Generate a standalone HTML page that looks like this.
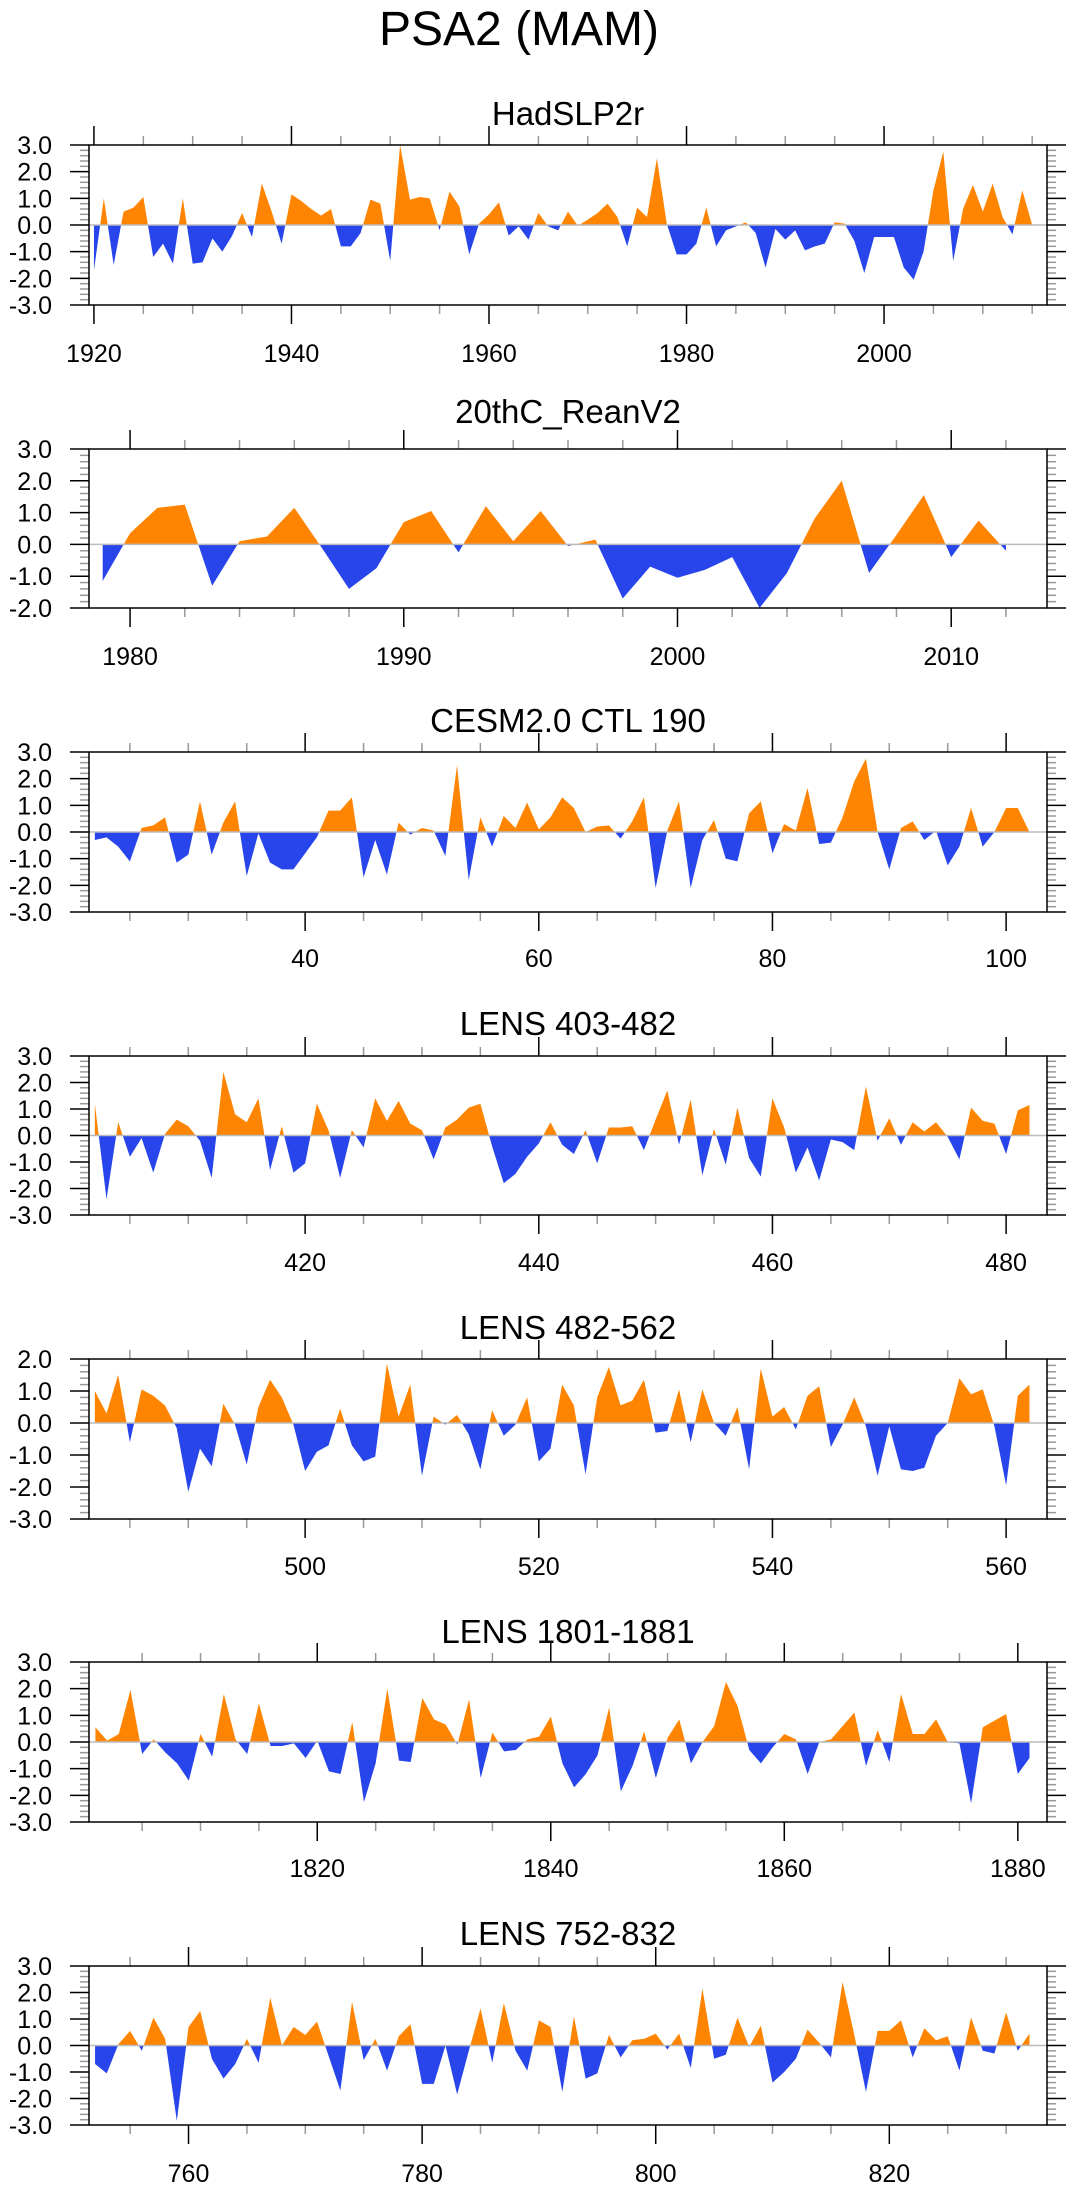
<!DOCTYPE html>
<html>
<head>
<meta charset="utf-8">
<style>
  html, body { margin: 0; padding: 0; background: #ffffff; }
  #chart { display: block; }
  text { font-family: "Liberation Sans", "DejaVu Sans", sans-serif; fill: #000; }
</style>
</head>
<body>
<svg id="chart" width="1075" height="2191" viewBox="0 0 1075 2191" xmlns="http://www.w3.org/2000/svg">
  <rect x="0" y="0" width="1075" height="2191" fill="#ffffff"/>
  <text x="519" y="45" font-size="48" text-anchor="middle">PSA2 (MAM)</text>
  <defs id="defs"></defs>
</svg>
<script>
// ---------- data ----------
const hadStart = 1920;
const hadValues = [-1.7,1.0,-1.5,0.5,0.65,1.05,-1.2,-0.7,-1.45,1.0,
  -1.45,-1.4,-0.5,-1.0,-0.4,0.45,-0.45,1.55,0.5,-0.7,
  1.15,0.9,0.6,0.35,0.6,-0.8,-0.8,-0.3,0.95,0.8,
  -1.35,3.0,0.95,1.05,1.0,-0.2,1.25,0.7,-1.1,0.05,
  0.4,0.85,-0.4,-0.05,-0.55,0.45,-0.05,-0.2,0.5,-0.03,
  0.2,0.45,0.8,0.3,-0.8,0.65,0.3,2.5,0.05,-1.1,
  -1.1,-0.7,0.65,-0.8,-0.2,-0.05,0.1,-0.3,-1.6,-0.15,
  -0.55,-0.2,-0.95,-0.8,-0.7,0.1,0.05,-0.6,-1.8,-0.45,
  -0.45,-0.45,-1.6,-2.05,-1.0,1.3,2.75,-1.35,0.6,1.5,
  0.5,1.55,0.3,-0.35,1.3,0.0];
const hadXLabels = [1920,1940,1960,1980,2000];

const reanStart = 1979;
const reanValues = [-1.15,0.35,1.15,1.25,-1.3,0.1,0.25,1.15,-0.1,-1.4,
  -0.75,0.7,1.05,-0.25,1.2,0.1,1.05,-0.05,0.15,-1.7,
  -0.7,-1.05,-0.8,-0.4,-2.0,-0.9,0.8,2.0,-0.9,0.3,
  1.55,-0.4,0.75,-0.2];
const reanXLabels = [1980,1990,2000,2010];

const cesmStart = 22;
const cesmValues = [-0.3,-0.2,-0.55,-1.1,0.15,0.25,0.55,-1.15,-0.85,1.15,
  -0.85,0.35,1.15,-1.65,-0.05,-1.15,-1.4,-1.4,-0.8,-0.2,
  0.8,0.8,1.3,-1.7,-0.3,-1.6,0.35,-0.1,0.15,0.05,
  -0.9,2.5,-1.8,0.55,-0.55,0.6,0.15,1.1,0.1,0.55,
  1.3,0.9,0.0,0.2,0.25,-0.25,0.4,1.3,-2.1,0.05,
  1.15,-2.1,-0.3,0.45,-1.0,-1.1,0.7,1.15,-0.8,0.3,
  0.05,1.65,-0.45,-0.4,0.55,1.9,2.75,0.0,-1.4,0.15,
  0.4,-0.3,0.05,-1.25,-0.55,0.9,-0.55,0.0,0.9,0.9,
  0.0];
const cesmXLabels = [40,60,80,100];

const lensAStart = 402;
const lensAValues = [1.2,-2.4,0.5,-0.8,-0.1,-1.4,0.05,0.6,0.35,-0.2,
  -1.6,2.4,0.8,0.5,1.4,-1.3,0.35,-1.4,-1.05,1.2,
  0.2,-1.6,0.2,-0.45,1.4,0.55,1.3,0.45,0.2,-0.9,
  0.3,0.6,1.05,1.2,-0.4,-1.8,-1.45,-0.8,-0.3,0.5,
  -0.35,-0.7,0.2,-1.05,0.3,0.3,0.35,-0.55,0.6,1.7,
  -0.35,1.35,-1.5,0.25,-1.1,1.05,-0.85,-1.55,1.4,0.3,
  -1.4,-0.45,-1.7,-0.15,-0.25,-0.55,1.85,-0.2,0.65,-0.35,
  0.5,0.15,0.5,-0.05,-0.9,1.05,0.55,0.45,-0.7,0.95,
  1.15];
const lensAXLabels = [420,440,460,480];

const lensBStart = 482;
const lensBValues = [1.0,0.3,1.5,-0.6,1.05,0.85,0.55,-0.15,-2.15,-0.8,
  -1.35,0.6,-0.05,-1.3,0.5,1.35,0.8,-0.05,-1.5,-0.9,
  -0.7,0.45,-0.7,-1.2,-1.05,1.85,0.2,1.2,-1.65,0.2,
  -0.05,0.25,-0.35,-1.45,0.4,-0.4,-0.05,0.8,-1.2,-0.8,
  1.2,0.55,-1.6,0.8,1.75,0.55,0.7,1.35,-0.3,-0.25,
  1.05,-0.6,1.05,0.0,-0.4,0.5,-1.45,1.7,0.2,0.5,
  -0.2,0.85,1.15,-0.75,-0.05,0.8,-0.1,-1.65,-0.1,-1.45,
  -1.5,-1.4,-0.4,0.0,1.4,0.9,1.05,-0.1,-1.95,0.85,
  1.2];
const lensBXLabels = [500,520,540,560];

const lensCStart = 1801;
const lensCValues = [0.55,0.05,0.3,1.95,-0.45,0.1,-0.4,-0.8,-1.45,0.3,
  -0.55,1.8,0.1,-0.45,1.45,-0.15,-0.15,-0.05,-0.6,0.05,
  -1.1,-1.2,0.75,-2.25,-0.8,2.0,-0.7,-0.75,1.65,0.85,
  0.65,-0.1,1.6,-1.35,0.35,-0.35,-0.3,0.1,0.2,0.95,
  -0.8,-1.7,-1.2,-0.5,1.3,-1.85,-0.9,0.4,-1.35,0.15,
  0.85,-0.8,0.0,0.6,2.25,1.35,-0.3,-0.8,-0.2,0.3,
  0.1,-1.2,0.0,0.1,0.6,1.1,-0.9,0.45,-0.75,1.8,
  0.3,0.3,0.85,0.0,-0.05,-2.3,0.55,0.8,1.05,-1.2,
  -0.6];
const lensCXLabels = [1820,1840,1860,1880];

const lensDStart = 752;
const lensDValues = [-0.7,-1.05,0.05,0.55,-0.2,1.05,0.25,-2.85,0.7,1.3,
  -0.5,-1.25,-0.7,0.25,-0.65,1.8,0.0,0.7,0.4,0.9,
  -0.4,-1.7,1.65,-0.55,0.25,-0.95,0.35,0.8,-1.45,-1.45,
  0.0,-1.85,-0.2,1.4,-0.65,1.6,-0.2,-0.95,0.95,0.7,
  -1.75,1.1,-1.25,-1.05,0.4,-0.45,0.2,0.25,0.45,-0.15,
  0.45,-0.85,2.15,-0.5,-0.35,1.05,-0.05,0.75,-1.4,-1.0,
  -0.5,0.6,0.1,-0.45,2.4,0.4,-1.75,0.55,0.55,0.95,
  -0.45,0.65,0.2,0.35,-0.95,1.05,-0.2,-0.3,1.25,-0.2,
  0.45];
const lensDXLabels = [760,780,800,820];

// ---------- layout (geometry only) ----------
const panels = [
  {slug:'hadslp2r', title:'HadSLP2r', start:hadStart, values:hadValues, xlabels:hadXLabels, top:145, bottom:305, ymin:-3, ymax:3, xmin:1919.5, xmax:2016.5, minor:5, titleY:125, labelY:362},
  {slug:'20thc-reanv2', title:'20thC_ReanV2', start:reanStart, values:reanValues, xlabels:reanXLabels, top:449, bottom:608, ymin:-2, ymax:3, xmin:1978.5, xmax:2013.5, minor:2, titleY:423, labelY:665},
  {slug:'cesm2-ctl-190', title:'CESM2.0 CTL 190', start:cesmStart, values:cesmValues, xlabels:cesmXLabels, top:752, bottom:912, ymin:-3, ymax:3, xmin:21.5, xmax:103.5, minor:5, titleY:732, labelY:967},
  {slug:'lens-403-482', title:'LENS 403-482', start:lensAStart, values:lensAValues, xlabels:lensAXLabels, top:1056, bottom:1215, ymin:-3, ymax:3, xmin:401.5, xmax:483.5, minor:5, titleY:1035, labelY:1271},
  {slug:'lens-482-562', title:'LENS 482-562', start:lensBStart, values:lensBValues, xlabels:lensBXLabels, top:1359, bottom:1519, ymin:-3, ymax:2, xmin:481.5, xmax:563.5, minor:5, titleY:1339, labelY:1575},
  {slug:'lens-1801-1881', title:'LENS 1801-1881', start:lensCStart, values:lensCValues, xlabels:lensCXLabels, top:1662, bottom:1822, ymin:-3, ymax:3, xmin:1800.45, xmax:1882.5, minor:5, titleY:1643, labelY:1877},
  {slug:'lens-752-832', title:'LENS 752-832', start:lensDStart, values:lensDValues, xlabels:lensDXLabels, top:1966, bottom:2125, ymin:-3, ymax:3, xmin:751.48, xmax:833.5, minor:5, titleY:1945, labelY:2182}
];

const NS = 'http://www.w3.org/2000/svg';
const svg = document.getElementById('chart');
const defs = document.getElementById('defs');
const LEFT = 89, RIGHT = 1047;

function mk(tag, attrs, parent) {
  const e = document.createElementNS(NS, tag);
  for (const k in attrs) e.setAttribute(k, attrs[k]);
  parent.appendChild(e);
  return e;
}

panels.forEach((p, i) => {
  const xs = v => LEFT + (v - p.xmin) / (p.xmax - p.xmin) * (RIGHT - LEFT);
  const ys = v => p.top + (p.ymax - v) / (p.ymax - p.ymin) * (p.bottom - p.top);
  const zy = ys(0);

  const g = mk('g', {}, svg);
  
  

  const t = mk('text', {x: 568, y: p.titleY, 'font-size': 33, 'text-anchor': 'middle'}, g);
  t.textContent = p.title;
  
  

  // clip paths
  const cp = mk('clipPath', {id: 'pos' + i}, defs);
  mk('rect', {x: LEFT, y: p.top, width: RIGHT - LEFT, height: zy - p.top}, cp);
  const cn = mk('clipPath', {id: 'neg' + i}, defs);
  mk('rect', {x: LEFT, y: zy, width: RIGHT - LEFT, height: p.bottom - zy}, cn);

  // area path from data
  let d = 'M' + xs(p.start).toFixed(2) + ',' + zy.toFixed(2);
  p.values.forEach((v, k) => {
    d += ' L' + xs(p.start + k).toFixed(2) + ',' + ys(v).toFixed(2);
  });
  d += ' L' + xs(p.start + p.values.length - 1).toFixed(2) + ',' + zy.toFixed(2) + ' Z';

  const pos = mk('path', {d: d, fill: '#ff8400', 'clip-path': 'url(#pos' + i + ')'}, g);
  
  
  const neg = mk('path', {d: d, fill: '#2845ec', 'clip-path': 'url(#neg' + i + ')'}, g);
  
  

  const zl = mk('line', {x1: LEFT, x2: RIGHT, y1: zy, y2: zy, stroke: '#bbbbbb', 'stroke-width': 1.5}, g);
  
  

  // y ticks
  for (let v = p.ymin; v <= p.ymax + 1e-6; v += 0.2) {
    const vv = Math.round(v * 10) / 10;
    const y = ys(vv);
    const major = Math.abs(vv - Math.round(vv)) < 1e-6;
    const len = major ? 19 : 9;
    const col = major ? '#000' : '#999';
    mk('line', {x1: LEFT - len, x2: LEFT, y1: y, y2: y, stroke: col, 'stroke-width': 1.5}, g);
    mk('line', {x1: RIGHT, x2: RIGHT + len, y1: y, y2: y, stroke: col, 'stroke-width': 1.5}, g);
    if (major) {
      const yl = mk('text', {x: 52, y: y + 9, 'font-size': 25, 'text-anchor': 'end'}, g);
      yl.textContent = vv.toFixed(1);
      
      
    }
  }

  // x ticks
  const first = Math.ceil(p.xmin / p.minor) * p.minor;
  for (let v = first; v <= p.xmax; v += p.minor) {
    const x = xs(v);
    const major = p.xlabels.indexOf(v) >= 0 || (v % (p.minor === 2 ? 10 : 20) === 0);
    const len = major ? 19 : 9;
    const col = major ? '#000' : '#999';
    mk('line', {x1: x, x2: x, y1: p.top - len, y2: p.top, stroke: col, 'stroke-width': 1.5}, g);
    mk('line', {x1: x, x2: x, y1: p.bottom, y2: p.bottom + len, stroke: col, 'stroke-width': 1.5}, g);
  }
  p.xlabels.forEach(v => {
    const xl = mk('text', {x: xs(v), y: p.labelY, 'font-size': 25, 'text-anchor': 'middle'}, g);
    xl.textContent = String(v);
    
    
  });

  const box = mk('rect', {x: LEFT, y: p.top, width: RIGHT - LEFT, height: p.bottom - p.top, fill: 'none', stroke: '#000', 'stroke-width': 1.5}, g);
  
  
});
</script>
</body>
</html>
